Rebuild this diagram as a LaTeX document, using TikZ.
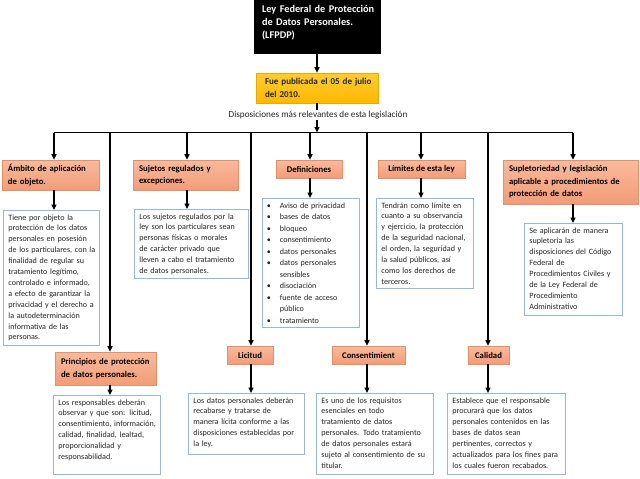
\documentclass[tikz,border=0pt]{standalone}
\usepackage{fontspec}
\setmainfont{Carlito}
\usetikzlibrary{arrows.meta}
\definecolor{hdrtop}{HTML}{F9BA9C}
\definecolor{hdrbot}{HTML}{F29C78}
\definecolor{hdrline}{HTML}{E58F69}
\definecolor{yeltop}{HTML}{FFCC33}
\definecolor{yelbot}{HTML}{FFB800}
\definecolor{yelline}{HTML}{E8A900}
\definecolor{descline}{HTML}{9CB6D1}
\definecolor{desctext}{HTML}{262626}
\newcommand\tb[2]{\vbox{\hsize=#1\relax #2}}
\newcommand\bottompad[1]{\vskip #1}
\newcommand\jl[1]{\hbox to\hsize{#1}}
\newcommand\lastl[1]{\hbox{#1}}
\newcommand\bitem[1]{\hbox to\hsize{\makebox[13pt][l]{\textbullet}#1\hfil}}
\newcommand\bitemj[1]{\hbox to\hsize{\makebox[13pt][l]{\textbullet}#1}}
\newcommand\bcont[1]{\hbox{\hspace{13pt}#1}}
\tikzset{
  arr/.style={line width=1.1pt, -{Triangle[length=5.5pt,width=5pt]}},
  busline/.style={line width=0.9pt},
  hdr/.style={draw=hdrline, line width=0.6pt, top color=hdrtop, bottom color=hdrbot,
    font=\fontsize{8.7}{12.6}\selectfont\bfseries, inner sep=0pt, align=left},
  hdrs/.style={draw=hdrline, line width=0.6pt, top color=hdrtop, bottom color=hdrbot,
    font=\fontsize{8.7}{12.6}\selectfont\bfseries, inner sep=0pt, align=center},
  desc/.style={draw=descline, line width=0.8pt, fill=white, text=desctext,
    font=\fontsize{8.1}{10.9}\selectfont, align=left, anchor=north west,
    inner xsep=5pt, inner ysep=4pt},
}
\begin{document}
\begin{tikzpicture}[x=1pt,y=-1pt]
\useasboundingbox (0,0) rectangle (640,479);

% top boxes
\node[draw=black, fill=black, text=white, font=\fontsize{10.3}{13}\selectfont\bfseries,
  text width=110pt, minimum width=126pt, minimum height=53pt, inner sep=0pt, align=left]
  (law) at (317,26.5) {\tb{110pt}{\jl{Ley Federal de Protección}\jl{de Datos Personales.}\lastl{(LFPDP)}\bottompad{8pt}}};
\node[draw=yelline, line width=0.6pt, top color=yeltop, bottom color=yelbot, text=black!85,
  font=\fontsize{9}{13}\selectfont\bfseries, text width=104pt, minimum width=122pt,
  minimum height=30pt, inner sep=0pt, align=left]
  (yel) at (317,88) {\tb{104pt}{\jl{Fue publicada el 05 de julio}\lastl{del 2010.}}};

% bus coordinates
\coordinate (b1) at (54,132.5);
\coordinate (b2) at (110,132.5);
\coordinate (b3) at (187,132.5);
\coordinate (b4) at (251,132.5);
\coordinate (b5) at (310,132.5);
\coordinate (b6) at (367,132.5);
\coordinate (b7) at (421,132.5);
\coordinate (b8) at (488,132.5);
\coordinate (b9) at (573,132.5);

\draw[arr] (law.south) -- (yel.north);
\draw[arr] (yel.south) -- (yel.south |- b1);
\node[fill=white, inner sep=1pt, font=\fontsize{9.2}{11}\selectfont, text=desctext] (disp) at (318,115)
  {Disposiciones más relevantes de esta legislación};
\draw[busline] (b1) -- (b9);

% headers, top row
\node[hdr, minimum width=97pt, minimum height=30pt, text width=85pt] (amb) at (50.5,175)
  {\tb{85pt}{\lastl{Ámbito de aplicación}\lastl{de objeto.}}};
\node[hdr, minimum width=105pt, minimum height=30pt, text width=93pt] (suj) at (185.5,175)
  {\tb{93pt}{\jl{Sujetos regulados y}\lastl{excepciones.}}};
\node[hdrs, minimum width=66pt, minimum height=18pt] (def) at (309,169) {Definiciones};
\node[hdrs, minimum width=87pt, minimum height=18pt] (lim) at (421.5,169) {Límites de esta ley};
\node[hdr, minimum width=135pt, minimum height=44pt, text width=123pt] (sup) at (570.5,182)
  {\tb{123pt}{\jl{Supletoriedad y legislación}\jl{aplicable a procedimientos de}\lastl{protección de datos}}};

% headers, bottom row
\node[hdr, minimum width=101pt, minimum height=33pt, text width=89pt] (pri) at (105.5,368.5)
  {\tb{89pt}{\lastl{Principios de protección}\lastl{de datos personales.}}};
\node[hdrs, minimum width=46pt, minimum height=18pt] (lic) at (250,355) {Licitud};
\node[hdrs, minimum width=73pt, minimum height=18pt] (con) at (368.5,355) {Consentimient};
\node[hdrs, minimum width=41pt, minimum height=18pt] (cal) at (488.5,355) {Calidad};

% descriptions
\node[desc, text width=86pt] (ambd) at (3,210)
  {\tb{86pt}{\jl{Tiene por objeto la}\jl{protección de los datos}\jl{personales en posesión}\jl{de los particulares, con la}\jl{finalidad de regular su}\jl{tratamiento legítimo,}\jl{controlado e informado,}\jl{a efecto de garantizar la}\jl{privacidad y el derecho a}\jl{la autodeterminación}\jl{informativa de las}\lastl{personas.}}};
\node[desc, text width=104pt] (sujd) at (134,209)
  {\tb{104pt}{\jl{Los sujetos regulados por la}\jl{ley son los particulares sean}\jl{personas físicas o morales}\jl{de carácter privado que}\jl{lleven a cabo el tratamiento}\lastl{de datos personales.}}};
\node[desc, text width=88pt, inner xsep=4.5pt, font=\fontsize{8.1}{11.5}\selectfont] (defd) at (262,198)
  {\tb{88pt}{\bitem{Aviso de privacidad}\bitem{bases de datos}\bitem{bloqueo}\bitem{consentimiento}\bitem{datos personales}\bitemj{datos personales}\bcont{sensibles}\bitem{disociación}\bitemj{fuente de acceso}\bcont{público}\bitem{tratamiento}}};
\node[desc, text width=87pt] (limd) at (376,198)
  {\tb{87pt}{\jl{Tendrán como límite en}\jl{cuanto a su observancia}\jl{y ejercicio, la protección}\jl{de la seguridad nacional,}\jl{el orden, la seguridad y}\jl{la salud públicos, así}\jl{como los derechos de}\lastl{terceros.}}};
\node[desc, text width=88pt] (supd) at (524,223)
  {\tb{88pt}{\jl{Se aplicarán de manera}\jl{supletoria las}\jl{disposiciones del Código}\jl{Federal de}\jl{Procedimientos Civiles y}\jl{de la Ley Federal de}\lastl{Procedimiento}\lastl{Administrativo}\bottompad{2pt}}};
\node[desc, text width=97pt] (prid) at (53,395)
  {\tb{97pt}{\jl{Los responsables deberán}\jl{observar y que son: licitud,}\jl{consentimiento, información,}\jl{calidad, finalidad, lealtad,}\jl{proporcionalidad y}\lastl{responsabilidad.}\bottompad{10pt}}};
\node[desc, text width=106pt] (licd) at (188,393)
  {\tb{106pt}{\jl{Los datos personales deberán}\jl{recabarse y tratarse de}\jl{manera lícita conforme a las}\jl{disposiciones establecidas por}\lastl{la ley.}\bottompad{2pt}}};
\node[desc, text width=107pt] (cond) at (316,393)
  {\tb{107pt}{\jl{Es uno de los requisitos}\jl{esenciales en todo}\jl{tratamiento de datos}\jl{personales. Todo tratamiento}\jl{de datos personales estará}\jl{sujeto al consentimiento de su}\lastl{titular.}\bottompad{2pt}}};
\node[desc, text width=108pt] (cald) at (447,393)
  {\tb{108pt}{\jl{Establece que el responsable}\jl{procurará que los datos}\jl{personales contenidos en las}\jl{bases de datos sean}\jl{pertinentes, correctos y}\jl{actualizados para los fines para}\lastl{los cuales fueron recabados.}\bottompad{2pt}}};

% drops from bus
\draw[arr] (b1) -- (b1 |- amb.north);
\draw[arr] (b2) -- (b2 |- pri.north);
\draw[arr] (b3) -- (b3 |- suj.north);
\draw[arr] (b4) -- (b4 |- lic.north);
\draw[arr] (b5) -- (b5 |- def.north);
\draw[arr] (b6) -- (b6 |- con.north);
\draw[arr] (b7) -- (b7 |- lim.north);
\draw[arr] (b8) -- (b8 |- cal.north);
\draw[arr] (b9) -- (b9 |- sup.north);

% header to description
\draw[arr] (b1 |- amb.south) -- (b1 |- ambd.north);
\draw[arr] (b3 |- suj.south) -- (b3 |- sujd.north);
\draw[arr] (b5 |- def.south) -- (b5 |- defd.north);
\draw[arr] (b7 |- lim.south) -- (b7 |- limd.north);
\draw[arr] (b9 |- sup.south) -- (b9 |- supd.north);
\draw[arr] (b2 |- pri.south) -- (b2 |- prid.north);
\draw[arr] (b4 |- lic.south) -- (b4 |- licd.north);
\draw[arr] (b6 |- con.south) -- (b6 |- cond.north);
\draw[arr] (b8 |- cal.south) -- (b8 |- cald.north);
\end{tikzpicture}
\end{document}
